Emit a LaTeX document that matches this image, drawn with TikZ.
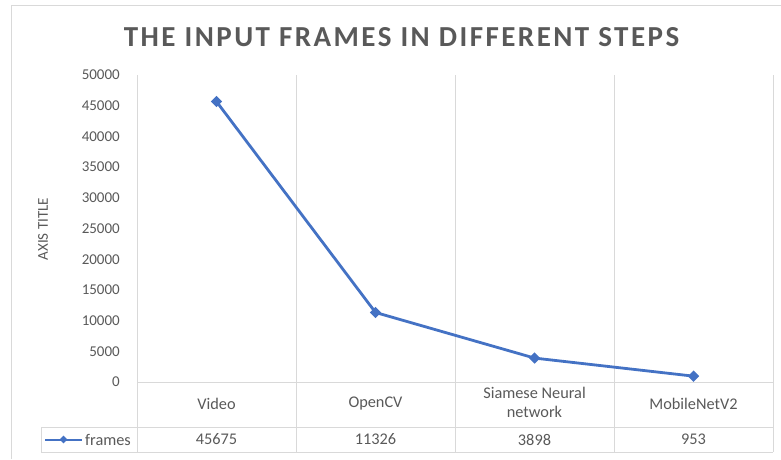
\documentclass[tikz,border=0pt]{standalone}
\usepackage{fontspec}
\usetikzlibrary{shapes.geometric}
\setmainfont{Carlito}
\newfontfamily\titlefont[LetterSpace=8.5]{Carlito}
\definecolor{txt}{HTML}{595959}
\definecolor{grid}{HTML}{D9D9D9}
\definecolor{ser}{HTML}{4472C4}
\begin{document}
\begin{tikzpicture}[x=1pt,y=-1pt,
  gridline/.style={draw=grid,line width=0.9pt},
  ticklbl/.style={anchor=east,text=txt,font=\fontsize{15}{15}\selectfont,inner sep=0pt},
  catlbl/.style={text=txt,font=\fontsize{16.3}{19}\selectfont,align=center,inner sep=0pt},
  serline/.style={draw=ser,line width=2.8pt,line join=round},
  marker/.style={diamond,fill=ser,minimum size=11.5pt,inner sep=0pt}]
\useasboundingbox (0,0) rectangle (781,459);
% outer border
\draw[gridline] (11,459) -- (11,5) -- (781,5);
% title
\node[text=txt,font=\titlefont\bfseries\fontsize{29}{29}\selectfont,inner sep=0pt] (title) at (401.5,37.5) {THE INPUT FRAMES IN DIFFERENT STEPS};
% axis title
\node[rotate=90,text=txt,font=\fontsize{15}{15}\selectfont,inner sep=0pt] (axtitle) at (43,229) {AXIS TITLE};
% grid / table lines
\foreach \x in {137,296,455,614,773} \draw[gridline] (\x,75) -- (\x,452);
\draw[gridline] (137,382) -- (773,382);
\draw[gridline] (41,427) -- (773,427);
\draw[gridline] (41,452) -- (773,452);
\draw[gridline] (41,427) -- (41,452);
% tick labels
\foreach \v [count=\i from 0] in {0,5000,10000,15000,20000,25000,30000,35000,40000,45000,50000}
  \node[ticklbl] (t\i) at (120,{382-\i*30.7}) {\v};
% categories
\node[catlbl] (c1) at (216.5,404) {Video};
\node[catlbl] (c2) at (375.5,404) {OpenCV};
\node[catlbl] (c3) at (534.5,402.5) {Siamese Neural\\network};
\node[catlbl] (c4) at (693.5,404) {MobileNetV2};
% data row
\node[catlbl] (d1) at (216.5,439.5) {45675};
\node[catlbl] (d2) at (375.5,439.5) {11326};
\node[catlbl] (d3) at (534.5,439.5) {3898};
\node[catlbl] (d4) at (693.5,439.5) {953};
% legend
\coordinate (la) at (45,439.5);
\coordinate (lb) at (82,439.5);
\draw[draw=ser,line width=2pt] (la) -- (lb);
\node[marker,minimum size=8pt] (lm) at (63.5,439.5) {};
\node[catlbl,anchor=west] (lt) at (85,439.5) {frames};
% series
\coordinate (q1) at (216.5,101.56);
\coordinate (q2) at (375.5,312.46);
\coordinate (q3) at (534.5,358.07);
\coordinate (q4) at (693.5,376.15);
\draw[serline] (q1) -- (q2) -- (q3) -- (q4);
\node[marker] (p1) at (q1) {};
\node[marker] (p2) at (q2) {};
\node[marker] (p3) at (q3) {};
\node[marker] (p4) at (q4) {};
\end{tikzpicture}
\end{document}
